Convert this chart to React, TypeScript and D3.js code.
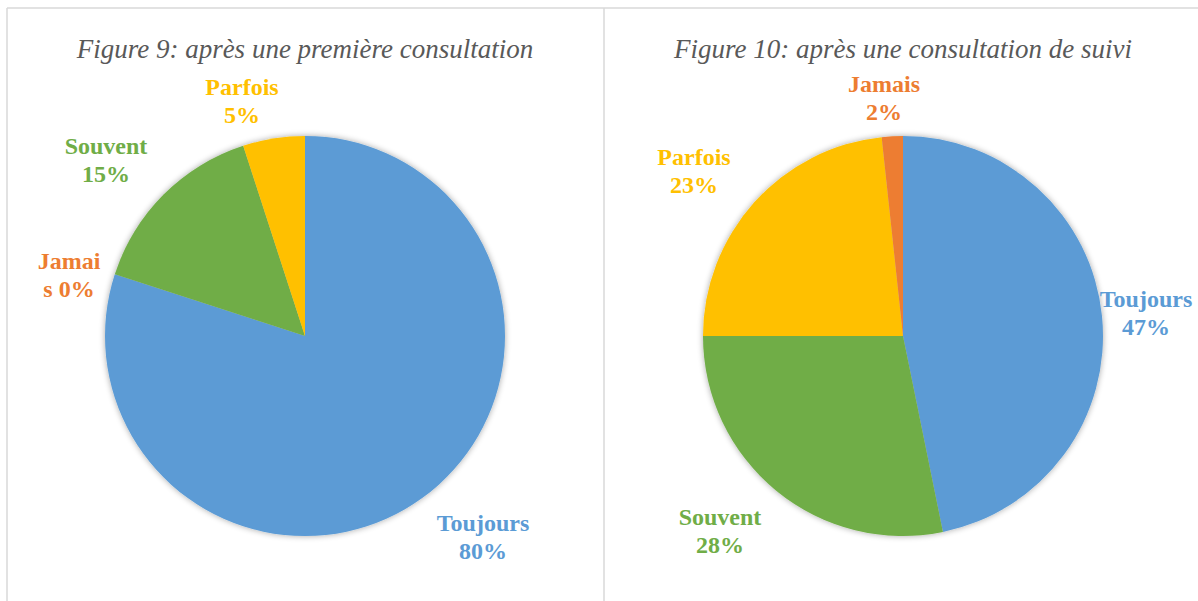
import React from "react";
import * as d3 from "d3";

const categories = ["Toujours", "Jamais", "Souvent", "Parfois"];
const colors = ["#5B9BD5", "#ED7D31", "#70AD47", "#FFC000"];
const valuesFig9 = [80, 0, 15, 5];
const labelsFig9 = [["Toujours", "80%"], ["Jamai", "s 0%"], ["Souvent", "15%"], ["Parfois", "5%"]];
const valuesFig10 = [46.8, 1.7, 28.2, 23.3];
const labelsFig10 = [["Toujours", "47%"], ["Jamais", "2%"], ["Souvent", "28%"], ["Parfois", "23%"]];
const titles = ["Figure 9: après une première consultation", "Figure 10: après une consultation de suivi"];

const orderFig9 = ["Toujours", "Jamais", "Souvent", "Parfois"];
const orderFig10 = ["Toujours", "Souvent", "Parfois", "Jamais"];

const labelPosFig9: [number, number][] = [[178, 201], [-236, -61], [-199, -176], [-63, -235]];
const labelPosFig10: [number, number][] = [[243, -23], [-19, -238], [-183, 195], [-209, -165]];

const serif = { fontFamily: "'Liberation Serif', 'Times New Roman', serif" };

function Pie({ cx, cy, r, values, labels, order, labelPos, title, titleX }: any) {
  const data = order.map((c: string) => {
    const i = categories.indexOf(c);
    return { c, v: values[i], color: colors[i], i };
  });
  const pie = d3.pie<any>().sort(null).value((d: any) => d.v);
  const arcs = pie(data);
  const arc = d3.arc<any>().innerRadius(0).outerRadius(r);
  return (
    <g>
      <text x={titleX} y={58} textAnchor="middle" style={{ ...serif, fontStyle: "italic", fontSize: 27 }} fill="#595959">{title}</text>
      <g transform={`translate(${cx},${cy})`}>
        <g filter="url(#shadow)">
          {arcs.map((a: any) => (
            <path key={a.data.c} d={arc(a) || ""} fill={a.data.color} stroke="none" />
          ))}
        </g>
        {categories.map((c, i) => {
          const [lx, ly] = labelPos[i];
          return (
            <text key={c} x={lx} y={ly} textAnchor="middle" style={{ ...serif, fontWeight: "bold", fontSize: 24 }} fill={colors[i]}>
              <tspan x={lx} dy={-6}>{labels[i][0]}</tspan>
              <tspan x={lx} dy={28}>{labels[i][1]}</tspan>
            </text>
          );
        })}
      </g>
    </g>
  );
}

export default function App() {
  return (
    <svg width={1198} height={601} style={{ position: "absolute", left: 0, top: 0, background: "#fff" }}>
      <defs>
        <filter id="shadow" x="-20%" y="-20%" width="140%" height="140%">
          <feGaussianBlur in="SourceAlpha" stdDeviation="3" />
          <feComponentTransfer><feFuncA type="linear" slope="0.35" /></feComponentTransfer>
          <feMerge><feMergeNode /><feMergeNode in="SourceGraphic" /></feMerge>
        </filter>
      </defs>
      <rect x={0} y={0} width={1198} height={601} fill="#fff" />
      <line x1={7} y1={8} x2={1198} y2={8} stroke="#d9d9d9" strokeWidth={1.5} />
      <line x1={7} y1={8} x2={7} y2={601} stroke="#d9d9d9" strokeWidth={1.5} />
      <line x1={604} y1={8} x2={604} y2={601} stroke="#d9d9d9" strokeWidth={1.5} />
      <Pie cx={305} cy={336} r={200} values={valuesFig9} labels={labelsFig9} order={orderFig9} labelPos={labelPosFig9} title={titles[0]} titleX={305} />
      <Pie cx={903} cy={336} r={200} values={valuesFig10} labels={labelsFig10} order={orderFig10} labelPos={labelPosFig10} title={titles[1]} titleX={903} />
    </svg>
  );
}
